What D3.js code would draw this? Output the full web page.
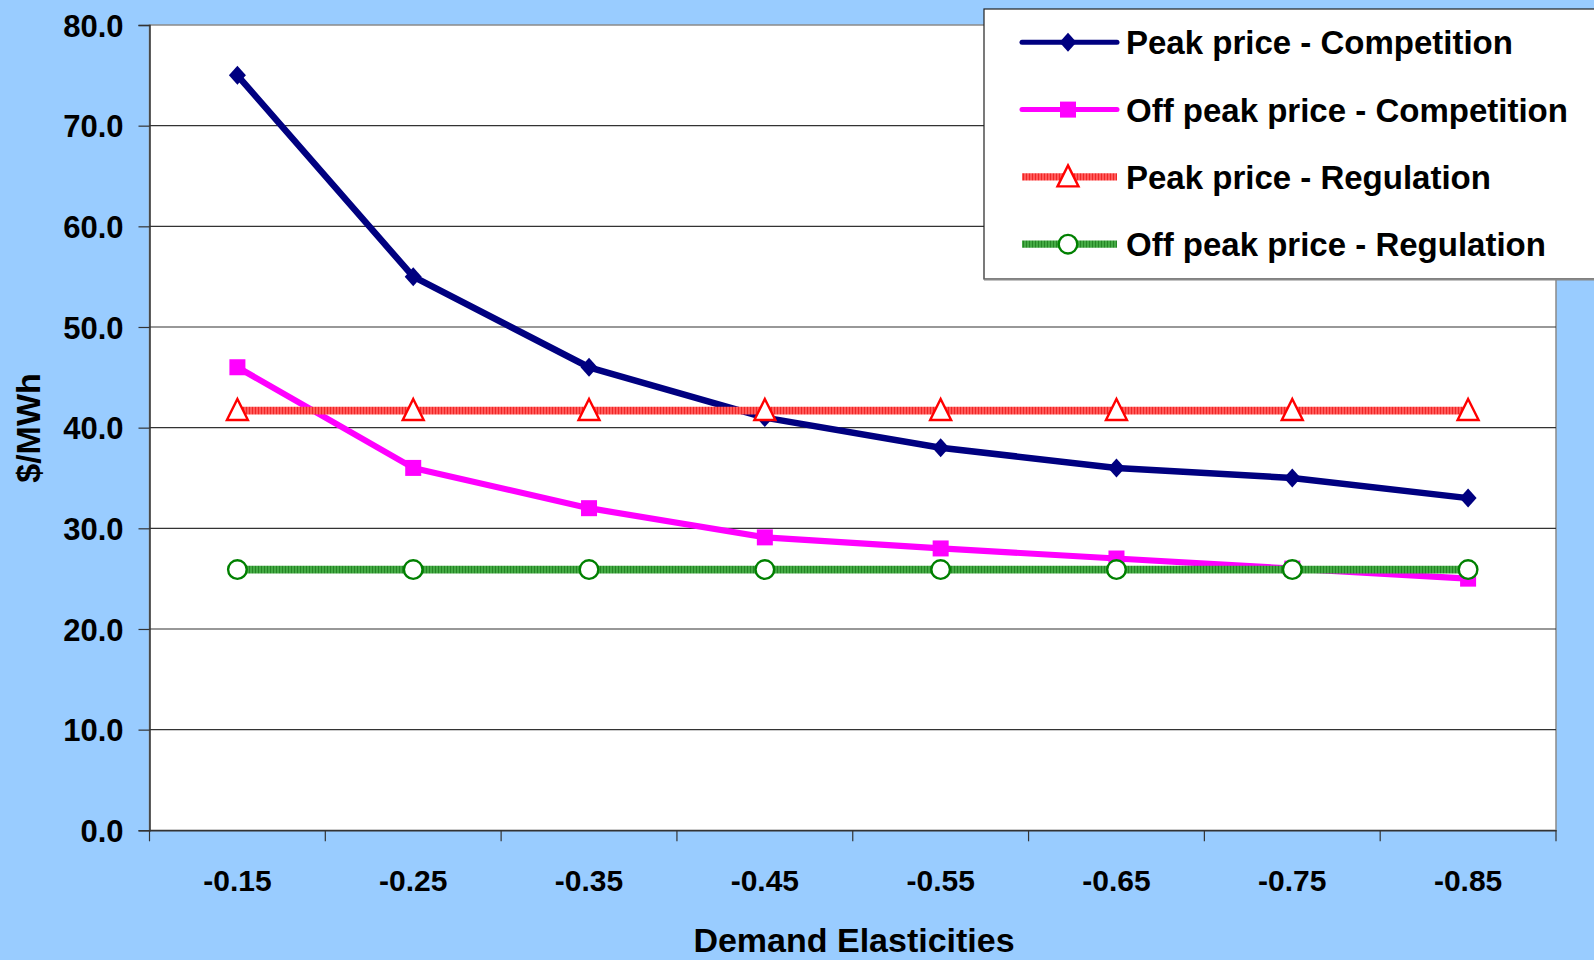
<!DOCTYPE html>
<html>
<head>
<meta charset="utf-8">
<script src="https://cdn.jsdelivr.net/npm/d3@7"></script>
<style>
  html, body { margin: 0; padding: 0; background: #99CCFF; }
  svg { display: block; }
  text { font-family: "Liberation Sans", Arial, sans-serif; font-weight: bold; fill: #000; }
</style>
</head>
<body>
<svg id="chart" width="1594" height="960"></svg>
<script>
// ---- data ----
const categories = ["-0.15", "-0.25", "-0.35", "-0.45", "-0.55", "-0.65", "-0.75", "-0.85"];
const peakCompetition    = [75.0, 55.0, 46.0, 41.0, 38.0, 36.0, 35.0, 33.0];
const offPeakCompetition = [46.0, 36.0, 32.0, 29.1, 28.0, 27.0, 26.0, 25.0];
const peakRegulation     = [41.7, 41.7, 41.7, 41.7, 41.7, 41.7, 41.7, 41.7];
const offPeakRegulation  = [25.9, 25.9, 25.9, 25.9, 25.9, 25.9, 25.9, 25.9];
const seriesNames = ["Peak price - Competition", "Off peak price - Competition",
                     "Peak price - Regulation", "Off peak price - Regulation"];
const yTicks = [0, 10, 20, 30, 40, 50, 60, 70, 80];
const yTitle = "$/MWh";
const xTitle = "Demand Elasticities";

// ---- layout ----
const svg = d3.select("#chart");
const plot = { left: 149.5, right: 1556, top: 25, bottom: 830.3 };

const x = d3.scaleBand().domain(categories).range([plot.left, plot.right]).padding(0);
const y = d3.scaleLinear().domain([0, 80]).range([plot.bottom, plot.top]);

// stripe patterns
const defs = svg.append("defs");
function stripe(id, base, dark) {
  const p = defs.append("pattern").attr("id", id).attr("patternUnits", "userSpaceOnUse")
    .attr("width", 3).attr("height", 10);
  p.append("rect").attr("width", 3).attr("height", 10).attr("fill", base);
  p.append("rect").attr("width", 1).attr("height", 10).attr("fill", dark);
}
stripe("redStripe", "#FF5A5A", "#F02626");
stripe("greenStripe", "#44AA44", "#258525");

// plot area
svg.append("rect")
  .attr("x", plot.left).attr("y", plot.top)
  .attr("width", plot.right - plot.left).attr("height", plot.bottom - plot.top)
  .attr("fill", "#fff").attr("stroke", "#8a8a8a").attr("stroke-width", 1.5);

// gridlines
svg.append("g").selectAll("line").data(yTicks.filter(d => d > 0 && d < 80)).join("line")
  .attr("x1", plot.left).attr("x2", plot.right)
  .attr("y1", d => y(d)).attr("y2", d => y(d))
  .attr("stroke", "#333").attr("stroke-width", 1.2);

// y axis
const yAxis = svg.append("g").attr("transform", `translate(${plot.left},0)`)
  .call(d3.axisLeft(y).tickValues(yTicks).tickFormat(d3.format(".1f")).tickSize(11).tickPadding(15));
yAxis.select(".domain").attr("stroke", "#333").attr("stroke-width", 1.5);
yAxis.selectAll(".tick line").attr("stroke", "#333").attr("stroke-width", 1.2);
yAxis.selectAll(".tick text").attr("font-size", 31).attr("font-family", "Liberation Sans, Arial, sans-serif")
  .attr("font-weight", "bold").attr("fill", "#000").attr("dy", "0.36em");

// x axis
const xAxis = svg.append("g").attr("transform", `translate(0,${plot.bottom})`)
  .call(d3.axisBottom(x).tickSize(0).tickPadding(0));
xAxis.select(".domain").attr("stroke", "#333").attr("stroke-width", 1.5);
xAxis.selectAll(".tick text").attr("font-size", 30).attr("font-family", "Liberation Sans, Arial, sans-serif")
  .attr("font-weight", "bold").attr("fill", "#000").attr("y", 61).attr("dy", 0);
// boundary ticks
const bounds = categories.map(c => x(c)).concat([plot.right]);
svg.append("g").selectAll("line").data(bounds).join("line")
  .attr("x1", d => d).attr("x2", d => d)
  .attr("y1", plot.bottom).attr("y2", plot.bottom + 11)
  .attr("stroke", "#333").attr("stroke-width", 1.2);

// axis titles
svg.append("text").attr("x", 854).attr("y", 952).attr("text-anchor", "middle")
  .attr("font-size", 34).text(xTitle);
svg.append("text").attr("transform", "translate(40,428) rotate(-90)").attr("text-anchor", "middle")
  .attr("font-size", 34).text(yTitle);

// marker drawing
function marker(g, type, cx, cy) {
  if (type === "diamond") {
    g.append("path").attr("d", `M${cx},${cy - 9.5}L${cx + 8.5},${cy}L${cx},${cy + 9.5}L${cx - 8.5},${cy}Z`)
      .attr("fill", "#000080");
  } else if (type === "square") {
    g.append("rect").attr("x", cx - 8).attr("y", cy - 8).attr("width", 16).attr("height", 16)
      .attr("fill", "#FF00FF");
  } else if (type === "triangle") {
    g.append("path").attr("d", `M${cx},${cy - 11.5}L${cx + 10.5},${cy + 9.5}L${cx - 10.5},${cy + 9.5}Z`)
      .attr("fill", "#fff").attr("stroke", "#FF0000").attr("stroke-width", 2.4);
  } else if (type === "circle") {
    g.append("circle").attr("cx", cx).attr("cy", cy).attr("r", 9.3)
      .attr("fill", "#fff").attr("stroke", "#008000").attr("stroke-width", 2.4);
  }
}

const series = [
  { name: seriesNames[0], values: peakCompetition, stroke: "#000080", width: 6.5, marker: "diamond" },
  { name: seriesNames[1], values: offPeakCompetition, stroke: "#FF00FF", width: 6.2, marker: "square" },
  { name: seriesNames[2], values: peakRegulation, stroke: "url(#redStripe)", width: 7.8, marker: "triangle" },
  { name: seriesNames[3], values: offPeakRegulation, stroke: "url(#greenStripe)", width: 7.8, marker: "circle" }
];

const line = d3.line().x((d, i) => x(categories[i]) + x.bandwidth() / 2).y(d => y(d));

series.forEach(s => {
  const g = svg.append("g");
  g.append("path").attr("d", line(s.values)).attr("fill", "none")
    .attr("stroke", s.stroke).attr("stroke-width", s.width).attr("stroke-linejoin", "round");
  s.values.forEach((v, i) => marker(g, s.marker, x(categories[i]) + x.bandwidth() / 2, y(v)));
});

// legend
const lg = svg.append("g");
lg.append("rect").attr("x", 984).attr("y", 9).attr("width", 700).attr("height", 270)
  .attr("fill", "#fff").attr("stroke", "#222").attr("stroke-width", 1.2);
lg.append("line").attr("x1", 984).attr("x2", 1594).attr("y1", 279.5).attr("y2", 279.5)
  .attr("stroke", "#888").attr("stroke-width", 2);
series.forEach((s, i) => {
  const cy = 42.3 + i * 67.3;
  const g = lg.append("g");
  g.append("line").attr("x1", 1022).attr("x2", 1117).attr("y1", cy).attr("y2", cy)
    .attr("stroke", s.stroke).attr("stroke-width", i < 2 ? 5 : 7.3)
    .attr("stroke-linecap", i < 2 ? "round" : "butt");
  marker(g, s.marker, 1068, cy);
  g.append("text").attr("x", 1126).attr("y", cy + 12).attr("font-size", 33).text(s.name);
});
</script>
</body>
</html>
